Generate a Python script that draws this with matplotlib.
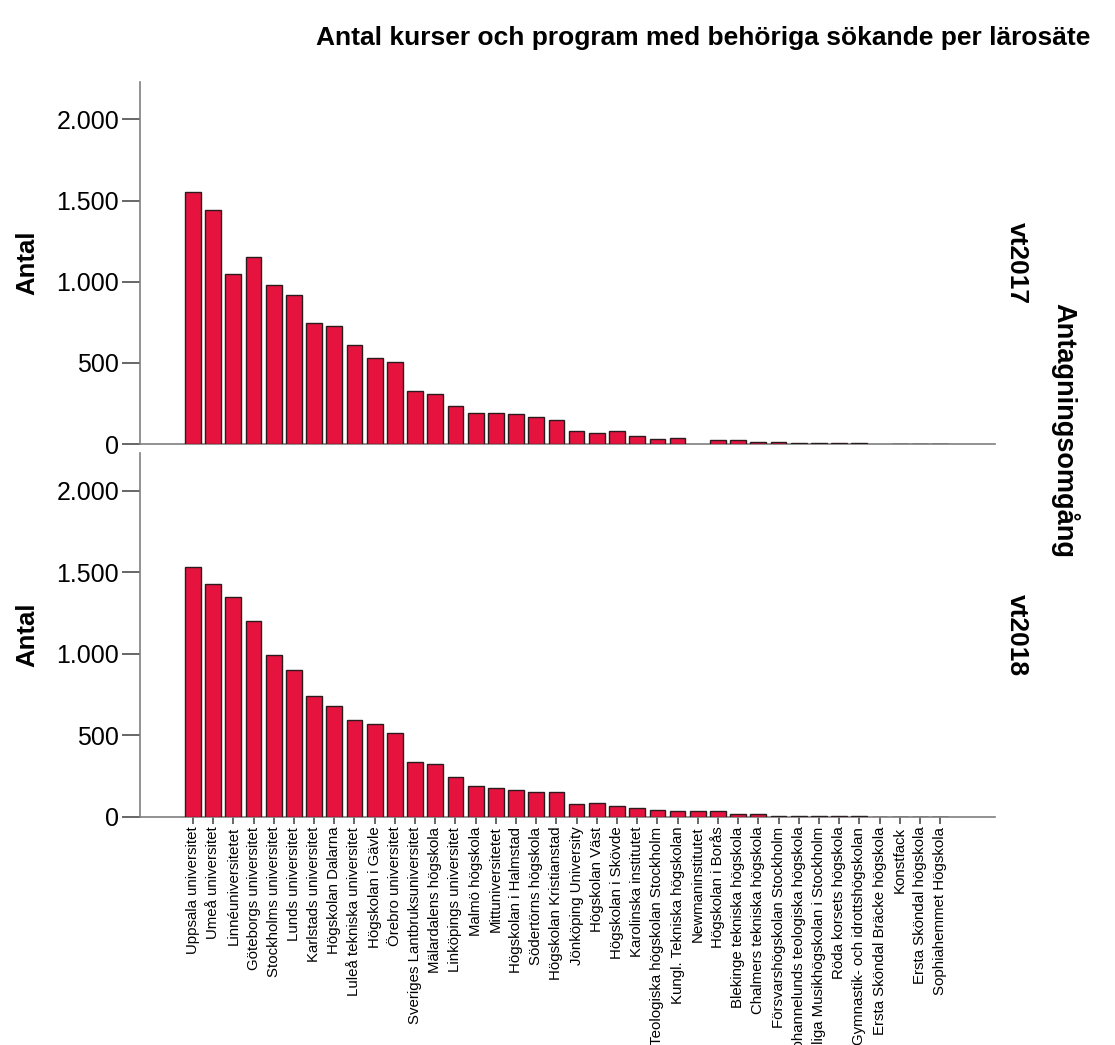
"""SPSS-style paneled bar chart: applicable courses per institution."""

import matplotlib

matplotlib.use("Agg")
import matplotlib.pyplot as plt
from matplotlib.ticker import FuncFormatter

plt.rcParams["font.family"] = ["Liberation Sans", "DejaVu Sans"]

institutions = [
    "Uppsala universitet", "Umeå universitet", "Linnéuniversitetet",
    "Göteborgs universitet", "Stockholms universitet", "Lunds universitet",
    "Karlstads universitet", "Högskolan Dalarna", "Luleå tekniska universitet",
    "Högskolan i Gävle", "Örebro universitet", "Sveriges Lantbruksuniversitet",
    "Mälardalens högskola", "Linköpings universitet", "Malmö högskola",
    "Mittuniversitetet", "Högskolan i Halmstad", "Södertörns högskola",
    "Högskolan Kristianstad", "Jönköping University", "Högskolan Väst",
    "Högskolan i Skövde", "Karolinska institutet", "Teologiska högskolan Stockholm",
    "Kungl. Tekniska högskolan", "Newmaninstitutet", "Högskolan i Borås",
    "Blekinge tekniska högskola", "Chalmers tekniska högskola",
    "Försvarshögskolan Stockholm", "Johannelunds teologiska högskola",
    "Kungliga Musikhögskolan i Stockholm", "Röda korsets högskola",
    "Gymnastik- och idrottshögskolan", "Ersta Sköndal Bräcke högskola",
    "Konstfack", "Ersta Sköndal högskola", "Sophiahemmet Högskola",
]

vt2017 = [
    1552, 1439, 1050, 1152, 978, 920, 746, 726, 613, 531, 504, 328, 308,
    236, 189, 193, 186, 164, 150, 82, 70, 80, 49, 31, 39, 0, 23, 22,
    14, 13, 6, 6, 4, 4, 0, 3, 3, 3,
]

vt2018 = [
    1534, 1425, 1347, 1199, 993, 898, 742, 683, 597, 570, 517, 336, 324,
    242, 189, 175, 164, 154, 154, 80, 88, 68, 52, 44, 36, 36, 36, 20,
    18, 8, 6, 4, 3, 3, 2, 2, 2, 1,
]

rounds = ["vt2017", "vt2018"]
panel_values = [vt2017, vt2018]

BAR_COLOUR = "#E6133F"
AXIS_COLOUR = "#7F7F7F"


def thousands(value, _pos):
    return f"{int(value):,}".replace(",", ".")


fig = plt.figure(figsize=(11.15, 10.45), dpi=100)
left, right = 0.1256, 0.8924
panel_boxes = [(0.5751, 0.9215), (0.2182, 0.5665)]

positions = list(range(len(institutions)))

for i, (label, values) in enumerate(zip(rounds, panel_values)):
    bottom, top = panel_boxes[i]
    ax = fig.add_axes([left, bottom, right - left, top - bottom])
    widths = [0 if v == 0 else 1.0 for v in values]
    ax.bar(positions, values, width=0.78, color=BAR_COLOUR, edgecolor="#2B1A1E",
           linewidth=widths, zorder=3)

    ax.set_xlim(-2.62, 39.72)
    ax.set_ylim(0, 2230)
    ax.set_yticks([0, 500, 1000, 1500, 2000])
    ax.yaxis.set_major_formatter(FuncFormatter(thousands))
    ax.tick_params(axis="y", direction="out", length=13, width=1.2,
                   color="#4D4D4D", labelsize=18, pad=2)

    for side in ("top", "right"):
        ax.spines[side].set_visible(False)
    for side in ("left", "bottom"):
        ax.spines[side].set_color(AXIS_COLOUR)
        ax.spines[side].set_linewidth(1.2)

    if i == len(rounds) - 1:
        ax.set_xticks(positions)
        ax.set_xticklabels(institutions, rotation=90, fontsize=10.8)
        ax.tick_params(axis="x", direction="out", length=5, width=1.2,
                       color="#4D4D4D", pad=2)
    else:
        ax.set_xticks([])

    ax.set_ylabel("Antal", fontsize=18.5, fontweight="bold")
    ax.yaxis.set_label_coords(-0.118, 0.5)

    mid = (bottom + top) / 2
    fig.text(0.912, mid, label, rotation=-90, fontsize=19, fontweight="bold",
             ha="center", va="center")

fig.text(0.955, 0.5885, "Antagningsomgång", rotation=-90, fontsize=19.5,
         fontweight="bold", ha="center", va="center")
fig.text(0.631, 0.964, "Antal kurser och program med behöriga sökande per lärosäte",
         fontsize=19, fontweight="bold", ha="center", va="center")

fig.savefig("out.png", dpi=100)
